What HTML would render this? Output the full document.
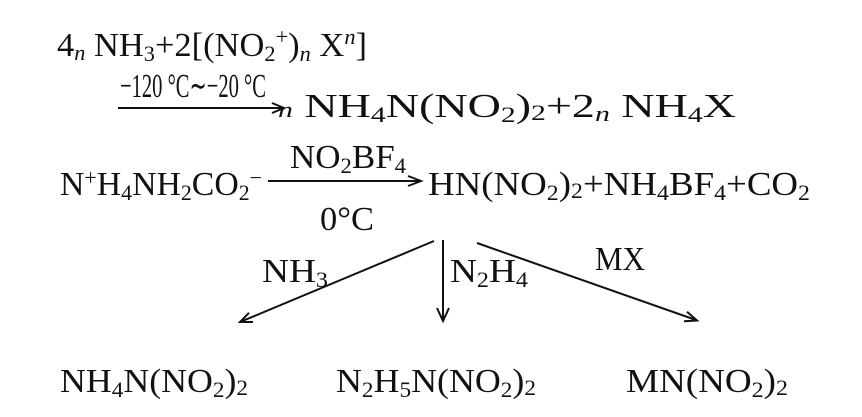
<!DOCTYPE html>
<html><head><meta charset="utf-8"><style>
html,body{margin:0;padding:0;background:#fff;width:862px;height:417px;overflow:hidden}
svg text{font-family:"Liberation Serif",serif;font-size:34px;fill:#111}
</style></head><body>
<svg width="862" height="417" viewBox="0 0 862 417" xmlns="http://www.w3.org/2000/svg">
<g stroke="#111" stroke-width="2" fill="none">
<line x1="118" y1="108" x2="283" y2="108"/><polyline points="272,103 284,108 272,113"/>
<line x1="268" y1="181" x2="420" y2="181"/><polyline points="408,176 421,181 408,186"/>
<line x1="434" y1="241" x2="240" y2="322"/><polyline points="249,312.8 240,322 253,322"/>
<line x1="443" y1="240" x2="443" y2="320"/><polyline points="437,308 443,321 449,308"/>
<line x1="477" y1="243" x2="696" y2="320"/><polyline points="687,311.8 697,320.5 684,321.2"/>
</g>
<text x="57" y="56" textLength="310" lengthAdjust="spacingAndGlyphs">4<tspan font-style="italic" font-size="22" dy="4">n</tspan><tspan dy="-4"> NH</tspan><tspan font-size="22" dy="5">3</tspan><tspan dy="-5">+2[(NO</tspan><tspan font-size="22" dy="5">2</tspan><tspan font-size="22" dy="-17">+</tspan><tspan dy="12">)</tspan><tspan font-style="italic" font-size="22" dy="5">n</tspan><tspan dy="-5"> X</tspan><tspan font-style="italic" font-size="22" dy="-12">n</tspan><tspan dy="12">]</tspan></text>
<text x="120" y="97" textLength="146" lengthAdjust="spacingAndGlyphs">−120 °C∼−20 °C</text>
<text x="278" y="117" textLength="458" lengthAdjust="spacingAndGlyphs"><tspan font-style="italic" font-size="22">n</tspan><tspan> NH</tspan><tspan font-size="22" dy="5">4</tspan><tspan dy="-5">N(NO</tspan><tspan font-size="22" dy="5">2</tspan><tspan dy="-5">)</tspan><tspan font-size="22" dy="3">2</tspan><tspan dy="-3">+2</tspan><tspan font-style="italic" font-size="22" dy="4">n</tspan><tspan dy="-4"> NH</tspan><tspan font-size="22" dy="5">4</tspan><tspan dy="-5">X</tspan></text>
<text x="290" y="168" textLength="116" lengthAdjust="spacingAndGlyphs">NO<tspan font-size="22" dy="5">2</tspan><tspan dy="-5">BF</tspan><tspan font-size="22" dy="5">4</tspan></text>
<text x="60" y="195" textLength="202" lengthAdjust="spacingAndGlyphs">N<tspan font-size="22" dy="-10">+</tspan><tspan dy="10">H</tspan><tspan font-size="22" dy="5">4</tspan><tspan dy="-5">NH</tspan><tspan font-size="22" dy="5">2</tspan><tspan dy="-5">CO</tspan><tspan font-size="22" dy="5">2</tspan><tspan font-size="22" dy="-15">−</tspan></text>
<text x="428" y="195" textLength="382" lengthAdjust="spacingAndGlyphs">HN(NO<tspan font-size="22" dy="5">2</tspan><tspan dy="-5">)</tspan><tspan font-size="22" dy="3">2</tspan><tspan dy="-3">+NH</tspan><tspan font-size="22" dy="5">4</tspan><tspan dy="-5">BF</tspan><tspan font-size="22" dy="5">4</tspan><tspan dy="-5">+CO</tspan><tspan font-size="22" dy="5">2</tspan></text>
<text x="320" y="230" textLength="54" lengthAdjust="spacingAndGlyphs">0°C</text>
<text x="262" y="282" textLength="66" lengthAdjust="spacingAndGlyphs">NH<tspan font-size="22" dy="5">3</tspan></text>
<text x="450" y="282" textLength="78" lengthAdjust="spacingAndGlyphs">N<tspan font-size="22" dy="5">2</tspan><tspan dy="-5">H</tspan><tspan font-size="22" dy="5">4</tspan></text>
<text x="595" y="270" textLength="50" lengthAdjust="spacingAndGlyphs">MX</text>
<text x="60" y="392" textLength="188" lengthAdjust="spacingAndGlyphs">NH<tspan font-size="22" dy="5">4</tspan><tspan dy="-5">N(NO</tspan><tspan font-size="22" dy="5">2</tspan><tspan dy="-5">)</tspan><tspan font-size="22" dy="3">2</tspan></text>
<text x="336" y="392" textLength="200" lengthAdjust="spacingAndGlyphs">N<tspan font-size="22" dy="5">2</tspan><tspan dy="-5">H</tspan><tspan font-size="22" dy="5">5</tspan><tspan dy="-5">N(NO</tspan><tspan font-size="22" dy="5">2</tspan><tspan dy="-5">)</tspan><tspan font-size="22" dy="3">2</tspan></text>
<text x="626" y="392" textLength="162" lengthAdjust="spacingAndGlyphs">MN(NO<tspan font-size="22" dy="5">2</tspan><tspan dy="-5">)</tspan><tspan font-size="22" dy="3">2</tspan></text>
</svg>
</body></html>
